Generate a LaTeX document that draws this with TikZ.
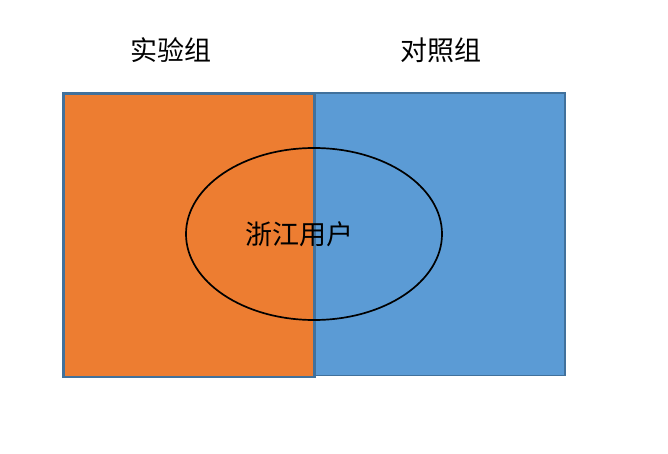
\documentclass[tikz,border=0pt]{standalone}
\usepackage{fontspec}
\usepackage{tikz}
\usetikzlibrary{shapes.geometric,positioning}
\newfontfamily\cjk{Noto Sans CJK SC}
\definecolor{grporange}{RGB}{237,125,49}
\definecolor{grpblue}{RGB}{91,155,213}
\definecolor{edgeblue}{RGB}{65,113,156}
\tikzset{
  grpbox/.style={rectangle,draw=edgeblue,line width=1.6pt,inner sep=0pt,anchor=north west},
  userset/.style={ellipse,draw=black,line width=1.7pt,inner sep=0pt,minimum width=256pt,minimum height=172pt},
  lbl/.style={font=\cjk\fontsize{27}{31}\selectfont,inner sep=0pt},
}

\begin{document}
\begin{tikzpicture}[x=1pt,y=-1pt]
  \useasboundingbox (0,0) rectangle (668,454);
  \node[grpbox,fill=grporange,line width=2.6pt,minimum width=251pt,minimum height=283pt] (exp) at (62,92.5) {};
  \node[grpbox,fill=grpblue,minimum width=250pt,minimum height=282pt] (ctl) at (314,92.5) {};
  \node[userset] (zj) at (314,234) {};
  \node[lbl] (zjtxt) at (299,234) {浙江用户};
  \node[lbl] (explbl) at (171,50) {实验组};
  \node[lbl] (ctllbl) at (441,50) {对照组};
\end{tikzpicture}
\end{document}
